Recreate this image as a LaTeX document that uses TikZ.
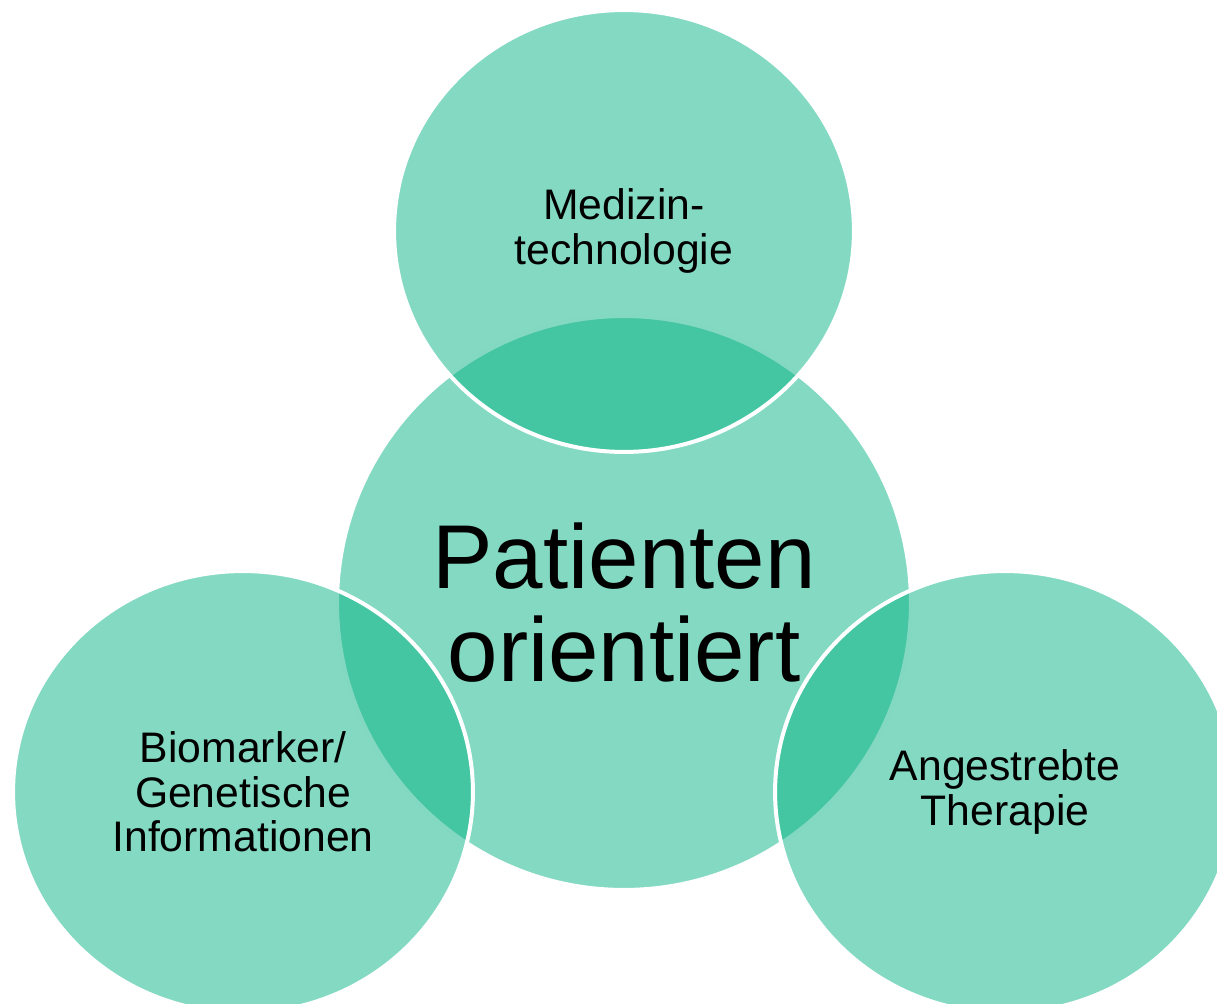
\documentclass[tikz,border=0pt]{standalone}
\usepackage{fontspec}
\setmainfont{Liberation Sans}
\usepackage{tikz}
\usetikzlibrary{shapes.geometric}

\definecolor{mint}{RGB}{7,179,133}

\begin{document}
\begin{tikzpicture}[
  x=0.02cm, y=-0.02cm,
  every node/.style={draw=white, line width=0.08cm, fill=mint, fill opacity=0.5,
    text opacity=1, ellipse, inner sep=0pt, align=center},
  hub/.style={minimum width=11.48cm, minimum height=11.48cm,
    font=\fontsize{51.6}{53}\selectfont},
  leaf/.style={minimum width=9.2cm, minimum height=8.84cm,
    font=\fontsize{24.3}{25.3}\selectfont}
]
\useasboundingbox (0,0) rectangle (1217,1004);
\clip (0,0) rectangle (1217,1004);
\node[hub] (pat) at (624,603) {Patienten\\orientiert};
\node[leaf] (med) at (624,231) {Medizin-\\technologie};
\node[leaf] (bio) at (243,792) {Biomarker/\\Genetische\\Informationen};
\node[leaf] (ther) at (1005,792) {Angestrebte\\Therapie};
\end{tikzpicture}
\end{document}
